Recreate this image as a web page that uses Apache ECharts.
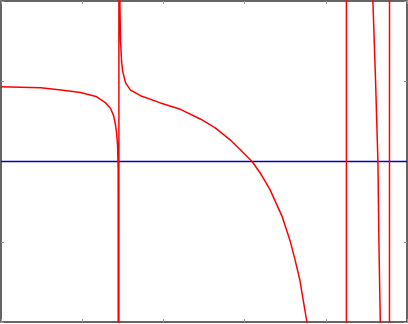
<!DOCTYPE html>
<html>
<head>
<meta charset="utf-8">
<script src="https://cdn.jsdelivr.net/npm/echarts@6/dist/echarts.min.js"></script>
<style>
  html, body { margin: 0; padding: 0; background: #fff; }
  #chart { width: 408px; height: 324px; }
</style>
</head>
<body>
<div id="chart"></div>
<script>
// curve samples (x in 0..5, y in -2..2)
var curveX = [0, 0.49, 0.74, 0.98, 1.17, 1.29, 1.35, 1.387, 1.411, 1.423, 1.436, 1.443, 1.451, 1.453,
  1.464, 1.472, 1.485, 1.497, 1.534, 1.595, 1.718, 1.963, 2.209, 2.454, 2.638, 2.822, 2.945, 3.092,
  3.19, 3.313, 3.46, 3.558, 3.62, 3.681, 3.767, 3.83, 4.0, 4.252, 4.256, 4.5, 4.572,
  4.580, 4.613, 4.642, 4.654, 4.671, 4.75, 4.78, 4.785, 4.789, 5];
var curveY = [0.93, 0.92, 0.89, 0.86, 0.81, 0.73, 0.66, 0.57, 0.45, 0.36, 0.20, -0.11, -30, 30,
  2.0, 1.5, 1.25, 1.13, 0.98, 0.89, 0.82, 0.73, 0.65, 0.53, 0.42, 0.27, 0.15, 0.0,
  -0.14, -0.35, -0.68, -0.98, -1.22, -1.48, -2.0, -2.4, -10, -40, 40, 40, 5,
  2.0, 1.0, 0.0, -1.0, -2.0, -10, -40, -40, 40, 40];
var zeroX = [0, 5];
var zeroY = [0, 0];

var xTicks = { min: 0, max: 5, interval: 1 };
var yTicks = { min: -2, max: 2, interval: 1 };

function pairs(xs, ys) {
  return xs.map(function (x, i) { return [x, ys[i]]; });
}

var tick = { show: true, inside: true, length: 3, lineStyle: { color: '#999', width: 1 } };

function axis(pos, range) {
  return {
    type: 'value', position: pos, min: range.min, max: range.max, interval: range.interval,
    axisLine: { show: false, onZero: false }, axisTick: tick, axisLabel: { show: false },
    splitLine: { show: false }
  };
}

var chart = echarts.init(document.getElementById('chart'));
chart.setOption({
  animation: false,
  grid: { left: 1, right: 1, top: 1, bottom: 2, show: true, borderColor: '#333', borderWidth: 1.5 },
  xAxis: [axis('bottom', xTicks), axis('top', xTicks)],
  yAxis: [axis('left', yTicks), axis('right', yTicks)],
  series: [
    {
      type: 'line', data: pairs(zeroX, zeroY), symbol: 'none', silent: true,
      lineStyle: { color: '#0000c8', width: 1.5 }
    },
    {
      type: 'line', data: pairs(curveX, curveY), symbol: 'none', clip: true, silent: true,
      lineStyle: { color: '#ff0000', width: 1.5 }
    }
  ]
});
</script>
</body>
</html>
